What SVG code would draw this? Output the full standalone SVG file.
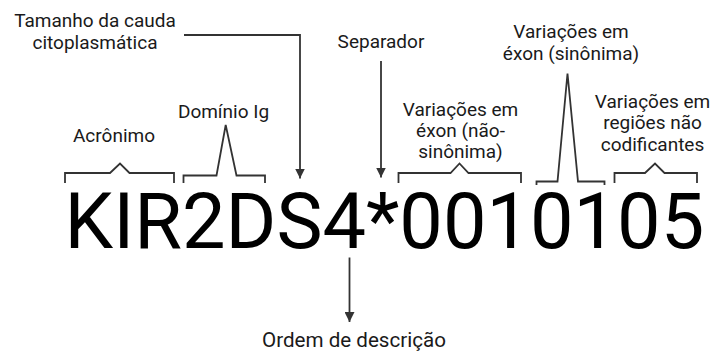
<svg xmlns="http://www.w3.org/2000/svg" width="716" height="351" viewBox="0 0 716 351">
  <defs>
    <marker id="arrow" viewBox="0 0 10 10" refX="10" refY="5" markerWidth="10" markerHeight="10" markerUnits="userSpaceOnUse" orient="auto">
      <path d="M0,0 L10,5 L0,10 Z" fill="#333"/>
    </marker>
    <style>
      .label { font-family: Roboto, "Liberation Sans", sans-serif; font-size: 19px; fill: #1a1a1a; text-anchor: middle; }
      .label-lg { font-size: 20.6px; }
      .name { font-family: Roboto, "Liberation Sans", sans-serif; font-size: 77.5px; fill: #000; }
      .bracket { fill: none; stroke: #333; stroke-width: 1.8; stroke-linejoin: miter; }
      .conn { fill: none; stroke: #333; stroke-width: 1.8; }
    </style>
  </defs>
  <rect width="716" height="351" fill="#fff"/>

  <!-- allele name -->
  <g id="allele">
    <text class="name" x="64.5" y="248">KIR2DS4*0010105</text>
  </g>

  <!-- brackets with their labels -->
  <g id="acronimo">
    <path class="bracket" d="M65,183 V173 H110 L120,163.5 L129.5,173 H174 V183"/>
    <text class="label" x="114" y="141.5">Acrônimo</text>
  </g>

  <g id="dominio-ig">
    <path class="bracket" d="M183.5,183 V175.5 H216.5 L225.7,125 L236.5,175.5 H265 V183"/>
    <text class="label" x="223.5" y="117.5">Domínio Ig</text>
  </g>

  <g id="exon-nao-sinonima">
    <path class="bracket" d="M398.5,183 V173 H450.5 L459.5,163.5 L468.5,173 H521 V183"/>
    <text class="label" x="460.5" y="115.5">Variações em</text>
    <text class="label" x="460.5" y="136.5">éxon (não-</text>
    <text class="label" x="460.5" y="157.5">sinônima)</text>
  </g>

  <g id="exon-sinonima">
    <path class="bracket" d="M536.5,185 V181.5 H557.5 L567.5,73.5 L578,181.5 H604.5 V185"/>
    <text class="label" x="571" y="38">Variações em</text>
    <text class="label" x="571" y="59.5">éxon (sinônima)</text>
  </g>

  <g id="regioes-nao-codificantes">
    <path class="bracket" d="M614.5,183 V173 H645 L655,163.5 L664.5,173 H697 V183"/>
    <text class="label" x="652.5" y="107.5">Variações em</text>
    <text class="label" x="652.5" y="129">regiões não</text>
    <text class="label" x="652.5" y="150.5">codificantes</text>
  </g>

  <g id="tamanho-cauda">
    <text class="label" x="95" y="27">Tamanho da cauda</text>
    <text class="label" x="95" y="48.5">citoplasmática</text>
  </g>

  <g id="separador">
    <text class="label" x="381" y="48">Separador</text>
  </g>

  <g id="ordem-descricao">
    <text class="label label-lg" x="354" y="346.5">Ordem de descrição</text>
  </g>

  <!-- arrows -->
  <g id="connectors">
    <path class="conn" d="M184,35 H300 V178.5" marker-end="url(#arrow)"/>
    <path class="conn" d="M381,61 V177.5" marker-end="url(#arrow)"/>
    <path class="conn" d="M349.5,257.5 V322" marker-end="url(#arrow)"/>
  </g>
</svg>
